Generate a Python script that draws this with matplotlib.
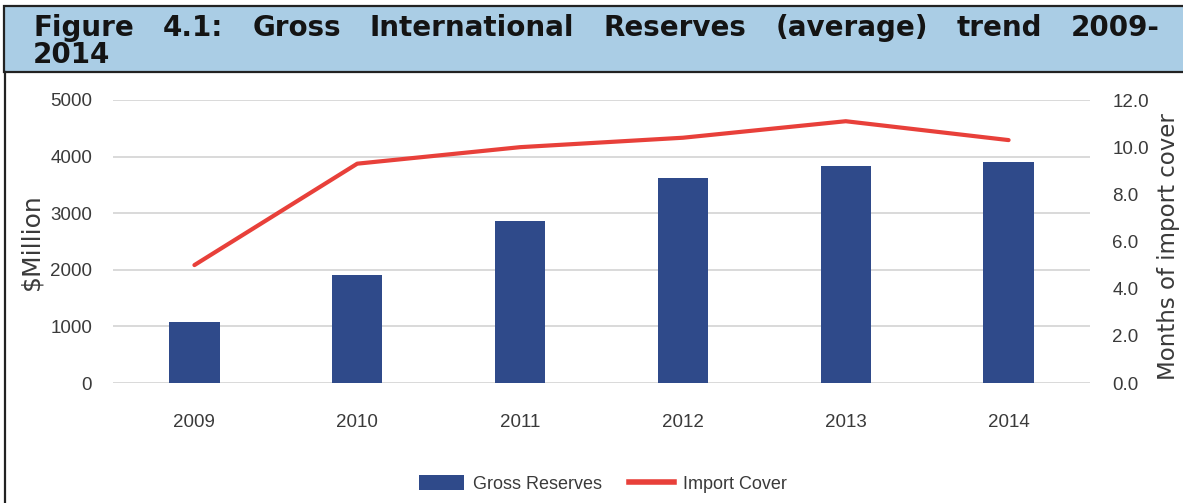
import matplotlib
matplotlib.use("Agg")
import matplotlib.pyplot as plt
from matplotlib.patches import Rectangle, Patch
from matplotlib.lines import Line2D

# Gross international reserves ($ million) and months of import cover
years = ['2009', '2010', '2011', '2012', '2013', '2014']
gross_reserves = [1080, 1910, 2870, 3620, 3840, 3910]
import_cover = [5.0, 9.3, 10.0, 10.4, 11.1, 10.3]

left_ticks = [0, 1000, 2000, 3000, 4000, 5000]
right_ticks = [0.0, 2.0, 4.0, 6.0, 8.0, 10.0, 12.0]

title_line1 = "Figure 4.1: Gross International Reserves (average) trend 2009-"
title_line2 = "2014"

bar_col = '#2F4A8A'
line_col = '#E8403A'
grid_col = '#D9D9D9'
text_col = '#3A3A3A'
narrow = ['Liberation Sans Narrow', 'DejaVu Sans Condensed', 'Liberation Sans']

W, H = 1183, 503
fig = plt.figure(figsize=(W / 100, H / 100), dpi=100)

# blue title band with dark rule lines, plus the left frame edge
fig.patches.append(Rectangle((4 / W, 1 - 72 / H), 1.2, (72 - 6) / H,
                             transform=fig.transFigure, facecolor='#AACDE5',
                             edgecolor='#222222', linewidth=1.6, zorder=0))
fig.add_artist(Line2D([5 / W, 5 / W], [0, 1 - 72 / H], transform=fig.transFigure,
                      color='#222222', linewidth=1.6))

# justified first title line: spread the words between the margins
renderer = fig.canvas.get_renderer()
words = title_line1.split(' ')
x0, x1 = 33, 1160
tfont = dict(family='DejaVu Sans', weight='bold', size=20, color='#141414')
widths = []
for w in words:
    t = fig.text(0, 0, w, **tfont)
    widths.append(t.get_window_extent(renderer).width)
    t.remove()
gap = (x1 - x0 - sum(widths)) / (len(words) - 1)
x = x0
for w, wd in zip(words, widths):
    fig.text(x / W, 1 - 36 / H, w, va='baseline', ha='left', **tfont)
    x += wd + gap
fig.text(x0 / W, 1 - 63 / H, title_line2, va='baseline', ha='left', **tfont)

# main axes with bars on the left scale
ax = fig.add_axes([113 / W, 1 - 383 / H, 977 / W, 283 / H])
pos = range(len(years))
ax.bar(pos, gross_reserves, width=0.31, color=bar_col, zorder=3)
ax.set_xlim(-0.5, len(years) - 0.5)
ax.set_ylim(0, 5000)
ax.set_yticks(left_ticks)
ax.set_xticks(list(pos))
ax.set_xticklabels(years)
ax.yaxis.grid(True, color=grid_col, linewidth=1.4, zorder=0)
ax.set_axisbelow(True)
for s in ax.spines.values():
    s.set_visible(False)
ax.tick_params(axis='both', length=0, labelsize=13.5, labelcolor=text_col)
ax.tick_params(axis='y', pad=15)
ax.tick_params(axis='x', pad=22)
for lab in ax.get_xticklabels() + ax.get_yticklabels():
    lab.set_family(narrow)
ax.set_ylabel('$Million', family='DejaVu Sans', fontsize=18, color=text_col)
ax.yaxis.set_label_coords(-0.071, 0.5)

# import cover line on the right scale
ax2 = ax.twinx()
ax2.plot(list(pos), import_cover, color=line_col, linewidth=3, zorder=4,
         solid_capstyle='round')
ax2.set_ylim(0, 12)
ax2.set_yticks(right_ticks)
ax2.set_yticklabels([f'{v:.1f}' for v in right_ticks])
for s in ax2.spines.values():
    s.set_visible(False)
ax2.tick_params(axis='y', length=0, labelsize=13.5, labelcolor=text_col, pad=16)
for lab in ax2.get_yticklabels():
    lab.set_family(narrow)
ax2.set_ylabel('Months of import cover', family='DejaVu Sans', fontsize=16.5,
               color=text_col, rotation=90)
ax2.yaxis.set_label_coords(1.0685, 0.482)

# legend along the bottom
handles = [Patch(facecolor=bar_col, edgecolor='none'),
           Line2D([], [], color=line_col, linewidth=4)]
fig.legend(handles, ['Gross Reserves', 'Import Cover'], ncol=2, frameon=False,
           loc='center', bbox_to_anchor=(603 / W, 1 - 484 / H),
           prop={'family': narrow, 'size': 13}, labelcolor=text_col,
           handlelength=2.5, handleheight=0.85, handletextpad=0.5,
           columnspacing=1.5)

fig.savefig('out.png', dpi=100)
